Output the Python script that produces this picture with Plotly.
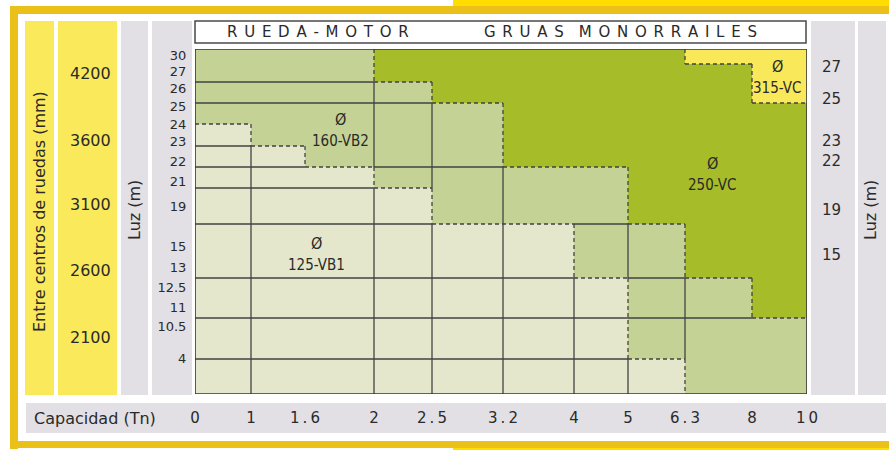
import numpy as np
import plotly.graph_objects as go

# ---------------- data ----------------
CAPACITY_TN = ["0", "1", "1.6", "2", "2.5", "3.2", "4", "5", "6.3", "8", "10"]
LUZ_LEFT = ["30", "27", "26", "25", "24", "23", "22", "21", "19", "15", "13", "12.5", "11", "10.5", "4"]
LUZ_RIGHT = ["27", "25", "23", "22", "19", "15"]
WHEEL_CENTERS_MM = ["4200", "3600", "3100", "2600", "2100"]
ZONE_NAMES = ["125-VB1", "160-VB2", "250-VC", "315-VC"]
ZONE_KEYS = ["c", "g", "o", "y"]          # prefix of each block id -> zone
# Block map (rows top->bottom, columns = capacity intervals). Same id = merged cell.
BLOCKS = [
    ["g1", "g1", "g1", "o", "o", "o", "o", "o", "y", "y"],
    ["g1", "g1", "g1", "o", "o", "o", "o", "o", "o", "y"],
    ["g2", "g2", "g2", "g4", "o", "o", "o", "o", "o", "y"],
    ["g3", "g3", "g3", "g5", "g6", "o", "o", "o", "o", "o"],
    ["c40", "g3", "g3", "g5", "g6", "o", "o", "o", "o", "o"],
    ["c50", "c51", "g3", "g5", "g6", "o", "o", "o", "o", "o"],
    ["c60", "c61", "c61", "g7", "g8", "g9", "g9", "o", "o", "o"],
    ["c70", "c71", "c71", "c73", "g8", "g9", "g9", "o", "o", "o"],
    ["c80", "c81", "c81", "c83", "c84", "c85", "g10", "g11", "o", "o"],
    ["c90", "c91", "c91", "c93", "c94", "c95", "c96", "g12", "g13", "o"],
    ["cA0", "cA1", "cA1", "cA3", "cA4", "cA5", "cA6", "g14", "g15", "g15"],
    ["cB0", "cB1", "cB1", "cB3", "cB4", "cB5", "cB6", "cB7", "g15", "g15"],
]

# ---------------- layout (sizes / positions / styles) ----------------
W, H = 889, 450
COL_W = [56, 54, 69, 58, 71, 71, 54, 57, 67, 55]
ROW_H = [15, 18, 21, 21, 22, 21, 21, 36, 54, 40, 41, 35]
LUZ_LEFT_POS = [6, 22, 39, 57, 75, 92, 112, 132, 157, 197, 218, 238, 258, 277, 309]
LUZ_RIGHT_POS = [18, 50, 92, 112, 161, 206]
WHEEL_POS_PX = [73, 140, 205, 270, 337]
ZONE_LABEL_POS = {"125-VB1": (121, 194), "160-VB2": (145, 70), "250-VC": (517, 114), "315-VC": (582, 17)}
CHART_PX = (195, 807, 49, 394)
ZONE_COLORS = ["#E4E7CC", "#C4D395", "#A6BC29", "#F9E859"]
PANEL_YELLOW = "#FAE95A"
PANEL_GRAY = "#E2E0E4"
FRAME_YELLOW = "#EBC119"
BRIGHT_YELLOW = "#FFDD00"
LINE_COL = "#424242"
TXT = "#2A2A2A"
FONT = "DejaVu Sans"

x_edges = np.concatenate([[0], np.cumsum(COL_W)])
y_edges = np.concatenate([[0], np.cumsum(ROW_H)])
nR, nC = len(BLOCKS), len(BLOCKS[0])
zone_of = lambda b: ZONE_KEYS.index(b[0])
Z = [[zone_of(b) for b in row] for row in BLOCKS]


def px(x):
    return x / W


def py(y):
    return 1 - y / H


fig = go.Figure()
n = len(ZONE_COLORS)
cs = []
for k, c in enumerate(ZONE_COLORS):
    cs += [[k / n, c], [(k + 1) / n, c]]
fig.add_trace(go.Heatmap(z=Z, x=x_edges, y=y_edges, colorscale=cs, zmin=-0.5, zmax=n - 0.5,
                         showscale=False, hoverinfo="skip"))
fig.add_trace(go.Scatter(x=[0], y=[0], yaxis="y2", mode="markers", marker=dict(opacity=0),
                         hoverinfo="skip", showlegend=False))

shapes = []


def rect_paper(x0, y0, x1, y1, color, line=None):
    shapes.append(dict(type="rect", xref="paper", yref="paper", x0=px(x0), x1=px(x1), y0=py(y1), y1=py(y0),
                       fillcolor=color, line=line or dict(width=0), layer="below"))


# frame
rect_paper(10, 6, 889, 14, FRAME_YELLOW)
rect_paper(10, 6, 18, 449, FRAME_YELLOW)
rect_paper(10, 441, 889, 448, FRAME_YELLOW)
rect_paper(453, 0, 889, 6, BRIGHT_YELLOW)
rect_paper(453, 448, 889, 450, BRIGHT_YELLOW)
# side panels
rect_paper(25, 21, 54, 395, PANEL_YELLOW)
rect_paper(58, 21, 117, 395, PANEL_YELLOW)
rect_paper(121, 21, 148, 395, PANEL_GRAY)
rect_paper(152, 21, 192, 395, PANEL_GRAY)
rect_paper(811, 21, 855, 395, PANEL_GRAY)
rect_paper(858, 21, 886, 395, PANEL_GRAY)
rect_paper(26, 403, 886, 433, PANEL_GRAY)
# title box
rect_paper(195, 21, 806, 43, "white", dict(color="#4a4a4a", width=1.5))


def seg(x0, y0, x1, y1, dashed):
    shapes.append(dict(type="line", xref="x", yref="y", x0=x0, y0=y0, x1=x1, y1=y1,
                       line=dict(color=LINE_COL, width=1.3, dash="4px,3px" if dashed else "solid")))


def style(a, b):
    if a == b:
        return None
    return "d" if a[0] != b[0] else "s"


# horizontal internal edges
for i in range(nR - 1):
    j = 0
    while j < nC:
        st = style(BLOCKS[i][j], BLOCKS[i + 1][j])
        k = j
        while k + 1 < nC and style(BLOCKS[i][k + 1], BLOCKS[i + 1][k + 1]) == st:
            k += 1
        if st:
            seg(x_edges[j], y_edges[i + 1], x_edges[k + 1], y_edges[i + 1], st == "d")
        j = k + 1
# vertical internal edges
for j in range(nC - 1):
    i = 0
    while i < nR:
        st = style(BLOCKS[i][j], BLOCKS[i][j + 1])
        k = i
        while k + 1 < nR and style(BLOCKS[k + 1][j], BLOCKS[k + 1][j + 1]) == st:
            k += 1
        if st:
            seg(x_edges[j + 1], y_edges[i], x_edges[j + 1], y_edges[k + 1], st == "d")
        i = k + 1
# outer border
shapes.append(dict(type="rect", xref="x", yref="y", x0=0, x1=x_edges[-1], y0=0, y1=y_edges[-1],
                   line=dict(color="#363636", width=1.6)))

ann = []
for name in ZONE_NAMES:
    xx, yy = ZONE_LABEL_POS[name]
    ann.append(dict(x=xx, y=yy, xref="x", yref="y", text="Ø", showarrow=False,
                    font=dict(family="DejaVu Sans Condensed, " + FONT, size=16, color=TXT)))
    ann.append(dict(x=xx, y=yy + 22, xref="x", yref="y", text=name, showarrow=False,
                    font=dict(family="DejaVu Sans Condensed, " + FONT, size=15, color=TXT)))


def ann_px(x, y, text, size=16, angle=0, xanchor="center", family=FONT):
    ann.append(dict(x=px(x), y=py(y), xref="paper", yref="paper", text=text, showarrow=False,
                    textangle=angle, xanchor=xanchor, yanchor="middle",
                    font=dict(family=family, size=size, color=TXT)))


for v, yy in zip(WHEEL_CENTERS_MM, WHEEL_POS_PX):
    ann_px(90, yy, v, 16)
ann_px(40, 212, "Entre centros de ruedas (mm)", 16, -90)
ann_px(134, 210, "Luz (m)", 16, -90)
ann_px(870, 210, "Luz (m)", 16, -90)
ann_px(32, 418, "Capacidad (Tn)", 16, xanchor="left")
sp = "\u2005\u2009"
ann_px(317.5, 32, sp.join("RUEDA-MOTOR"), 15)
ann_px(620.5, 32, sp.join("GRUAS") + "\u2003" + sp.join("MONORRAILES"), 15)

cap_text = ["\u2009".join(c) for c in CAPACITY_TN]

fig.update_layout(
    width=W, height=H, autosize=False, margin=dict(l=0, r=0, t=0, b=0, pad=0),
    paper_bgcolor="white", plot_bgcolor="white", showlegend=False,
    shapes=shapes, annotations=ann,
    xaxis=dict(domain=[px(CHART_PX[0]), px(CHART_PX[1])], range=[0, x_edges[-1]],
               tickvals=x_edges, ticktext=cap_text, ticks="outside", ticklen=10,
               tickcolor="rgba(0,0,0,0)", showgrid=False, zeroline=False, showline=False,
               tickfont=dict(family=FONT, size=15, color=TXT), fixedrange=True, automargin=False),
    yaxis=dict(domain=[py(CHART_PX[3]), py(CHART_PX[2])], range=[y_edges[-1], 0],
               tickvals=LUZ_LEFT_POS, ticktext=LUZ_LEFT, ticks="outside", ticklen=5,
               tickcolor="rgba(0,0,0,0)", showgrid=False, zeroline=False, showline=False,
               tickfont=dict(family=FONT, size=13, color=TXT), fixedrange=True, automargin=False),
    yaxis2=dict(overlaying="y", side="right", anchor="x", range=[y_edges[-1], 0],
                tickvals=LUZ_RIGHT_POS, ticktext=LUZ_RIGHT, ticks="outside", ticklen=11,
                tickcolor="rgba(0,0,0,0)", showgrid=False, zeroline=False, showline=False,
                tickfont=dict(family=FONT, size=15, color=TXT), fixedrange=True, automargin=False),
)

fig.write_html("out.html", config={"displayModeBar": False, "responsive": False},
               post_script="document.documentElement.style.margin='0';document.body.style.margin='0';"
                           "document.body.style.overflow='hidden';")
